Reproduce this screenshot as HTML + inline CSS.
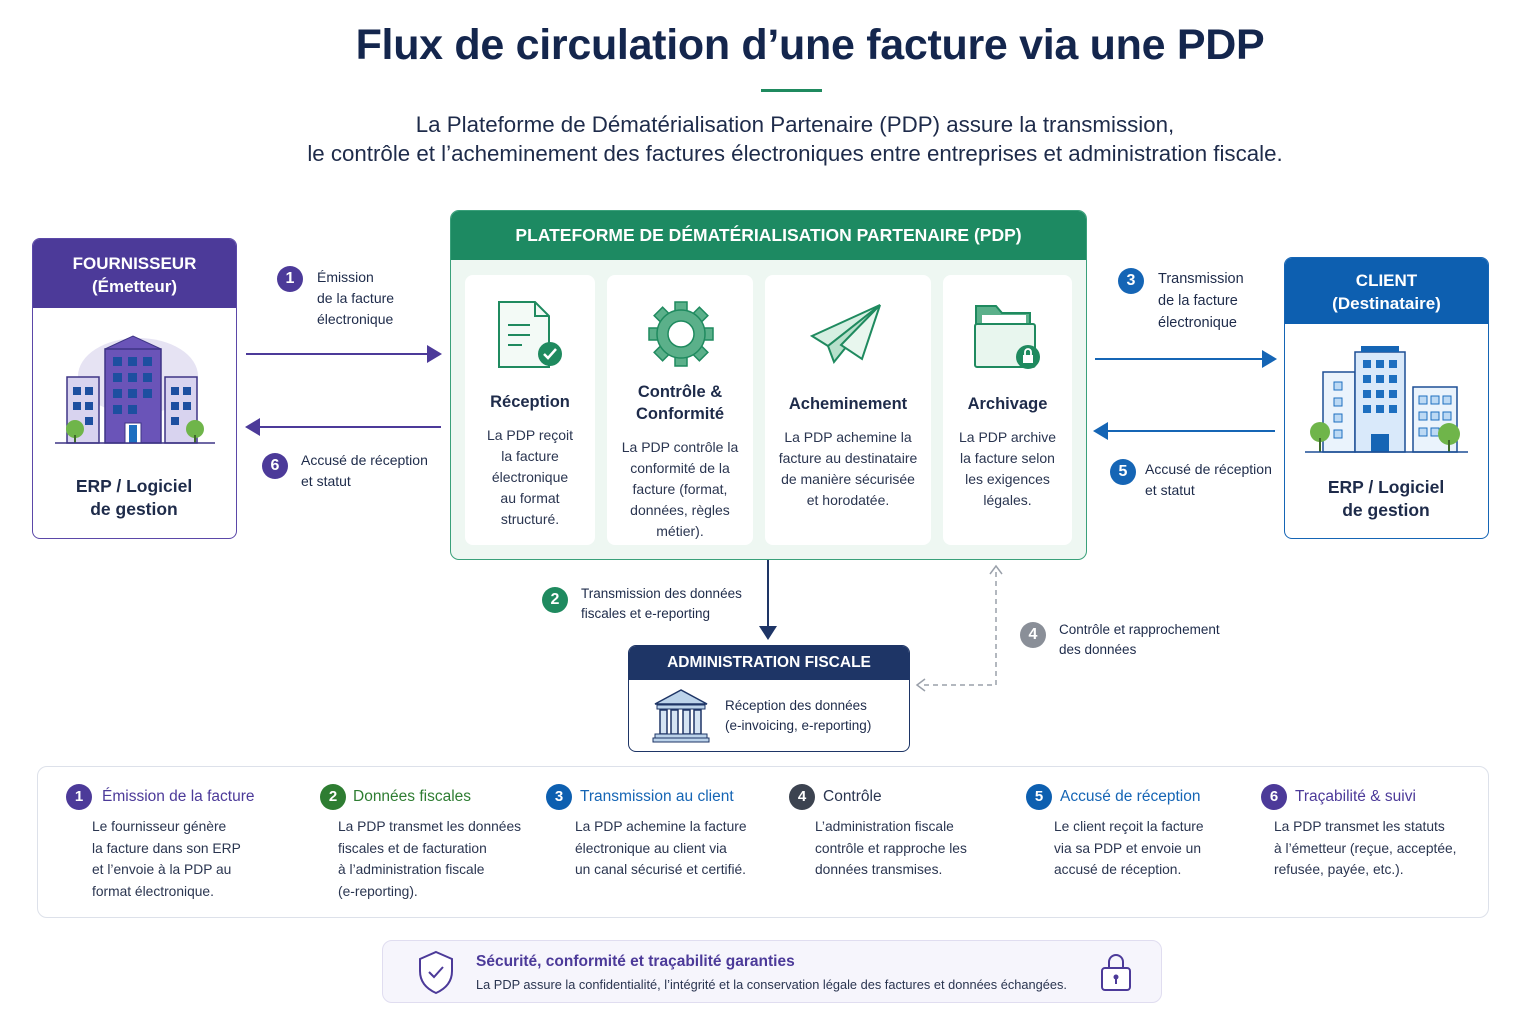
<!DOCTYPE html>
<html><head><meta charset="utf-8"><style>
*{margin:0;padding:0;box-sizing:border-box}
body{width:1536px;height:1024px;background:#fff;font-family:"Liberation Sans",sans-serif;position:relative;overflow:hidden;color:#1e2b4a}
.a{position:absolute}
.num{position:absolute;width:26px;height:26px;border-radius:50%;color:#fff;font-weight:bold;font-size:16px;text-align:center;line-height:26px}
.lbl{position:absolute;font-size:14px;line-height:21px;color:#1e2b4a}
.card{position:absolute;top:275px;height:270px;background:#fff;border-radius:8px;text-align:center}
.card h3{font-size:16.5px;color:#1e2b4a;line-height:22px;margin-bottom:12px}
.card p{font-size:14px;line-height:21px;color:#2a3550}
.bt{position:absolute;top:784px}
.bt .h{font-size:15.5px;height:26px;line-height:26px;position:relative;padding-left:36px}
.bt .h .num{left:0;top:0;font-size:15px}
.bt p{font-size:13.8px;line-height:21.5px;color:#2a3550;margin-top:6px;padding-left:26px}
</style></head><body>

<div class="a" style="left:0;width:1620px;top:21px;text-align:center;font-size:43px;font-weight:bold;color:#14264d;letter-spacing:-0.3px">Flux de circulation d’une facture via une PDP</div>
<div class="a" style="left:761px;top:89px;width:61px;height:3px;background:#1f8a5f"></div>
<div class="a" style="left:0;width:1590px;top:110px;text-align:center;font-size:22.3px;line-height:29px;color:#1e2b4a">La Plateforme de Dématérialisation Partenaire (PDP) assure la transmission,<br>le contrôle et l’acheminement des factures électroniques entre entreprises et administration fiscale.</div>

<!-- Fournisseur -->
<div class="a" style="left:32px;top:238px;width:205px;height:301px;border:1.5px solid #5b48a8;border-radius:8px;overflow:hidden;background:#fff">
 <div style="height:69px;background:#4c3a99;color:#fff;text-align:center;font-weight:bold;font-size:17px;line-height:23px;padding-top:13px">FOURNISSEUR<br>(Émetteur)</div>
 <svg class="a" style="left:20px;top:92px" width="165" height="120" viewBox="0 0 165 120">
  <ellipse cx="85" cy="45" rx="60" ry="38" fill="#e6e3f3"/>
  <rect x="14" y="46" width="32" height="66" fill="#d8d3ef" stroke="#3e3585" stroke-width="1.5"/>
  <rect x="112" y="46" width="32" height="66" fill="#d8d3ef" stroke="#3e3585" stroke-width="1.5"/>
  <polygon points="52,18 80,5 108,18" fill="#6a54b8" stroke="#3e3585"/>
  <rect x="52" y="18" width="56" height="94" fill="#6a54b8" stroke="#3e3585" stroke-width="1.5"/>
  <g fill="#1d4fa0">
   <rect x="60" y="26" width="9" height="9"/><rect x="75" y="26" width="9" height="9"/><rect x="90" y="26" width="9" height="9"/>
   <rect x="60" y="42" width="9" height="9"/><rect x="75" y="42" width="9" height="9"/><rect x="90" y="42" width="9" height="9"/>
   <rect x="60" y="58" width="9" height="9"/><rect x="75" y="58" width="9" height="9"/><rect x="90" y="58" width="9" height="9"/>
   <rect x="60" y="74" width="9" height="9"/><rect x="75" y="74" width="9" height="9"/>
   <rect x="20" y="56" width="8" height="8"/><rect x="32" y="56" width="8" height="8"/><rect x="20" y="71" width="8" height="8"/><rect x="32" y="71" width="8" height="8"/><rect x="32" y="86" width="8" height="8"/>
   <rect x="118" y="56" width="8" height="8"/><rect x="130" y="56" width="8" height="8"/><rect x="118" y="71" width="8" height="8"/><rect x="130" y="71" width="8" height="8"/><rect x="118" y="86" width="8" height="8"/>
  </g>
  <rect x="72" y="92" width="16" height="20" fill="#fff" stroke="#3e3585"/><rect x="76" y="94" width="8" height="18" fill="#1d6fc0"/>
  <circle cx="22" cy="98" r="9" fill="#6fb54a"/><rect x="21" y="104" width="2" height="8" fill="#3e6a2a"/>
  <circle cx="142" cy="98" r="9" fill="#6fb54a"/><rect x="141" y="104" width="2" height="8" fill="#3e6a2a"/>
  <line x1="2" y1="112" x2="162" y2="112" stroke="#3e3585" stroke-width="1.5"/>
 </svg>
 <div class="a" style="left:0;width:202px;top:236px;text-align:center;font-weight:bold;font-size:17.5px;line-height:23px;color:#1e2b4a">ERP / Logiciel<br>de gestion</div>
</div>

<svg class="a" style="left:0;top:0" width="1536" height="1024">
 <line x1="246" y1="354" x2="430" y2="354" stroke="#4c3a99" stroke-width="2"/>
 <polygon points="442,354 427,345 427,363" fill="#4c3a99"/>
 <line x1="258" y1="427" x2="441" y2="427" stroke="#4c3a99" stroke-width="2"/>
 <polygon points="245,427 260,418 260,436" fill="#4c3a99"/>
 <line x1="1095" y1="359" x2="1264" y2="359" stroke="#1565b5" stroke-width="2"/>
 <polygon points="1277,359 1262,350 1262,368" fill="#1565b5"/>
 <line x1="1106" y1="431" x2="1275" y2="431" stroke="#1565b5" stroke-width="2"/>
 <polygon points="1093,431 1108,422 1108,440" fill="#1565b5"/>
 <line x1="768" y1="560" x2="768" y2="628" stroke="#1e3566" stroke-width="2"/>
 <polygon points="768,640 759,626 777,626" fill="#1e3566"/>
 <polyline points="996,572 996,685 920,685" fill="none" stroke="#9aa0aa" stroke-width="1.5" stroke-dasharray="5,4"/>
 <polyline points="990,574 996,566 1002,574" fill="none" stroke="#9aa0aa" stroke-width="1.5"/>
 <polyline points="925,679 917,685 925,691" fill="none" stroke="#9aa0aa" stroke-width="1.5"/>
</svg>

<div class="num" style="left:277px;top:266px;background:#4c3a99">1</div>
<div class="lbl" style="left:317px;top:267px">Émission<br>de la facture<br>électronique</div>
<div class="num" style="left:262px;top:453px;background:#4c3a99">6</div>
<div class="lbl" style="left:301px;top:450px">Accusé de réception<br>et statut</div>
<div class="num" style="left:1118px;top:268px;background:#1565b5">3</div>
<div class="lbl" style="left:1158px;top:268px;font-size:14.5px;line-height:22px">Transmission<br>de la facture<br>électronique</div>
<div class="num" style="left:1110px;top:459px;background:#1565b5">5</div>
<div class="lbl" style="left:1145px;top:459px">Accusé de réception<br>et statut</div>
<div class="num" style="left:542px;top:587px;background:#1f8a5f">2</div>
<div class="lbl" style="left:581px;top:584px;font-size:13.5px;line-height:20px">Transmission des données<br>fiscales et e-reporting</div>
<div class="num" style="left:1020px;top:622px;background:#8a8f98">4</div>
<div class="lbl" style="left:1059px;top:620px;font-size:13.5px;line-height:20px">Contrôle et rapprochement<br>des données</div>

<!-- PDP -->
<div class="a" style="left:450px;top:210px;width:637px;height:350px;border:1.5px solid #3aa07a;border-radius:9px;overflow:hidden;background:#eef7f2">
 <div style="height:49px;background:#1d8a62;color:#fff;text-align:center;font-weight:bold;font-size:17.5px;line-height:49px">PLATEFORME DE DÉMATÉRIALISATION PARTENAIRE (PDP)</div>
</div>
<div class="card" style="left:465px;width:130px;padding-top:116px"><h3>Réception</h3><p>La PDP reçoit<br>la facture<br>électronique<br>au format<br>structuré.</p></div>
<div class="card" style="left:607px;width:146px;padding-top:106px"><h3>Contrôle &amp;<br>Conformité</h3><p>La PDP contrôle la<br>conformité de la<br>facture (format,<br>données, règles<br>métier).</p></div>
<div class="card" style="left:765px;width:166px;padding-top:118px"><h3>Acheminement</h3><p>La PDP achemine la<br>facture au destinataire<br>de manière sécurisée<br>et horodatée.</p></div>
<div class="card" style="left:943px;width:129px;padding-top:118px"><h3>Archivage</h3><p>La PDP archive<br>la facture selon<br>les exigences<br>légales.</p></div>

<svg class="a" style="left:0;top:0" width="1536" height="1024">
 <path d="M499,302 H535 L549,316 V367 H499 Z" fill="#f3faf6" stroke="#1f8a5f" stroke-width="2"/>
 <path d="M535,302 V316 H549" fill="none" stroke="#1f8a5f" stroke-width="2"/>
 <line x1="508" y1="325" x2="530" y2="325" stroke="#1f8a5f" stroke-width="2"/>
 <line x1="508" y1="335" x2="530" y2="335" stroke="#1f8a5f" stroke-width="2"/>
 <line x1="508" y1="345" x2="522" y2="345" stroke="#1f8a5f" stroke-width="2"/>
 <circle cx="550" cy="354" r="12" fill="#1f8a5f"/>
 <polyline points="544,354 548,358 556,349" fill="none" stroke="#fff" stroke-width="2.5"/>
 <g transform="translate(681,334)" fill="#5bb08a" stroke="#1f8a5f" stroke-width="1.5">
  <rect x="-6" y="-32" width="12" height="10"/>
  <rect x="-6" y="-32" width="12" height="10" transform="rotate(45)"/>
  <rect x="-6" y="-32" width="12" height="10" transform="rotate(90)"/>
  <rect x="-6" y="-32" width="12" height="10" transform="rotate(135)"/>
  <rect x="-6" y="-32" width="12" height="10" transform="rotate(180)"/>
  <rect x="-6" y="-32" width="12" height="10" transform="rotate(225)"/>
  <rect x="-6" y="-32" width="12" height="10" transform="rotate(270)"/>
  <rect x="-6" y="-32" width="12" height="10" transform="rotate(315)"/>
  <circle r="24"/>
  <circle r="13" fill="#fff"/>
 </g>
 <polygon points="880,305 812,336 828,346" fill="#d6efe2" stroke="#1f8a5f" stroke-width="2"/>
 <polygon points="880,305 828,346 834,362" fill="#b7e0cb" stroke="#1f8a5f" stroke-width="2"/>
 <polygon points="880,305 841,345 862,359" fill="#e8f6ee" stroke="#1f8a5f" stroke-width="2"/>
 <path d="M976,306 H996 L1002,313 H1030 V366 H976 Z" fill="#5bb08a" stroke="#1f8a5f" stroke-width="2"/>
 <rect x="982" y="315" width="44" height="8" fill="#fff"/>
 <rect x="975" y="324" width="60" height="43" rx="2" fill="#e8f6ee" stroke="#1f8a5f" stroke-width="2"/>
 <circle cx="1028" cy="357" r="12" fill="#1f8a5f"/>
 <rect x="1023" y="355" width="10" height="8" fill="#fff"/>
 <path d="M1025,355 v-3 a3,3 0 0 1 6,0 v3" fill="none" stroke="#fff" stroke-width="1.8"/>
</svg>

<!-- Client -->
<div class="a" style="left:1284px;top:257px;width:205px;height:282px;border:1.5px solid #1565b5;border-radius:8px;overflow:hidden;background:#fff">
 <div style="height:66px;background:#0d5fb0;color:#fff;text-align:center;font-weight:bold;font-size:17px;line-height:23px;padding-top:11px">CLIENT<br>(Destinataire)</div>
 <svg class="a" style="left:18px;top:84px" width="170" height="115" viewBox="0 0 170 115">
  <rect x="20" y="30" width="32" height="80" fill="#eaf3fc" stroke="#1d4f95" stroke-width="1.5"/>
  <rect x="110" y="45" width="44" height="65" fill="#eaf3fc" stroke="#1d4f95" stroke-width="1.5"/>
  <rect x="52" y="10" width="50" height="100" fill="#d9e9fa" stroke="#1d4f95" stroke-width="1.5"/>
  <rect x="58" y="4" width="38" height="6" fill="#1565b5"/>
  <g fill="#1d6fc0">
   <rect x="60" y="18" width="8" height="8"/><rect x="73" y="18" width="8" height="8"/><rect x="86" y="18" width="8" height="8"/>
   <rect x="60" y="33" width="8" height="8"/><rect x="73" y="33" width="8" height="8"/><rect x="86" y="33" width="8" height="8"/>
   <rect x="60" y="48" width="8" height="8"/><rect x="73" y="48" width="8" height="8"/><rect x="86" y="48" width="8" height="8"/>
   <rect x="60" y="63" width="8" height="8"/><rect x="73" y="63" width="8" height="8"/><rect x="86" y="63" width="8" height="8"/>
  </g>
  <g fill="#bcd9f4" stroke="#1d6fc0"><rect x="31" y="40" width="8" height="8"/><rect x="31" y="56" width="8" height="8"/><rect x="31" y="72" width="8" height="8"/><rect x="31" y="88" width="8" height="8"/>
  <rect x="116" y="54" width="8" height="8"/><rect x="128" y="54" width="8" height="8"/><rect x="140" y="54" width="8" height="8"/>
  <rect x="116" y="70" width="8" height="8"/><rect x="128" y="70" width="8" height="8"/><rect x="140" y="70" width="8" height="8"/>
  <rect x="116" y="86" width="8" height="8"/><rect x="128" y="86" width="8" height="8"/></g>
  <rect x="68" y="92" width="18" height="18" fill="#1565b5"/>
  <circle cx="17" cy="90" r="10" fill="#6fb54a"/><rect x="16" y="96" width="2" height="14" fill="#3e6a2a"/>
  <circle cx="146" cy="92" r="11" fill="#6fb54a"/><rect x="145" y="98" width="2" height="12" fill="#3e6a2a"/>
  <line x1="2" y1="110" x2="165" y2="110" stroke="#1d4f95" stroke-width="1.5"/>
 </svg>
 <div class="a" style="left:0;width:202px;top:218px;text-align:center;font-weight:bold;font-size:17.5px;line-height:23px;color:#1e2b4a">ERP / Logiciel<br>de gestion</div>
</div>

<!-- Admin -->
<div class="a" style="left:628px;top:645px;width:282px;height:107px;border:1.5px solid #1e3566;border-radius:8px;overflow:hidden;background:#fff">
 <div style="height:34px;background:#1e3566;color:#fff;text-align:center;font-weight:bold;font-size:15.5px;line-height:34px">ADMINISTRATION FISCALE</div>
 <svg class="a" style="left:22px;top:42px" width="60" height="56">
  <polygon points="30,2 4,16 56,16" fill="#bcd3ea" stroke="#1e3566" stroke-width="1.5"/>
  <rect x="6" y="17" width="48" height="4" fill="#bcd3ea" stroke="#1e3566"/>
  <g fill="#d5e4f3" stroke="#1e3566" stroke-width="1.5"><rect x="9" y="22" width="7" height="24"/><rect x="20" y="22" width="7" height="24"/><rect x="32" y="22" width="7" height="24"/><rect x="43" y="22" width="7" height="24"/></g>
  <rect x="4" y="46" width="52" height="4" fill="#bcd3ea" stroke="#1e3566"/>
  <rect x="2" y="50" width="56" height="4" fill="#bcd3ea" stroke="#1e3566"/>
 </svg>
 <div class="a" style="left:96px;top:50px;font-size:13.5px;line-height:20px;color:#1e2b4a">Réception des données<br>(e-invoicing, e-reporting)</div>
</div>

<!-- bottom panel -->
<div class="a" style="left:37px;top:766px;width:1452px;height:152px;border:1.5px solid #dde1ea;border-radius:10px;background:#fff"></div>
<div class="bt" style="left:66px"><div class="h" style="color:#4c3a99"><div class="num" style="background:#4c3a99">1</div>Émission de la facture</div><p>Le fournisseur génère<br>la facture dans son ERP<br>et l’envoie à la PDP au<br>format électronique.</p></div>
<div class="bt" style="left:320px"><div class="h" style="color:#2e7d32;padding-left:33px"><div class="num" style="background:#2e7d32">2</div>Données fiscales</div><p style="padding-left:18px">La PDP transmet les données<br>fiscales et de facturation<br>à l’administration fiscale<br>(e-reporting).</p></div>
<div class="bt" style="left:546px"><div class="h" style="color:#1565b5;padding-left:34px"><div class="num" style="background:#0d5fb0">3</div>Transmission au client</div><p style="padding-left:29px">La PDP achemine la facture<br>électronique au client via<br>un canal sécurisé et certifié.</p></div>
<div class="bt" style="left:789px"><div class="h" style="color:#2a3550;padding-left:34px"><div class="num" style="background:#3c4350">4</div>Contrôle</div><p style="padding-left:26px">L’administration fiscale<br>contrôle et rapproche les<br>données transmises.</p></div>
<div class="bt" style="left:1026px"><div class="h" style="color:#1565b5;padding-left:34px"><div class="num" style="background:#0d5fb0">5</div>Accusé de réception</div><p style="padding-left:28px">Le client reçoit la facture<br>via sa PDP et envoie un<br>accusé de réception.</p></div>
<div class="bt" style="left:1261px"><div class="h" style="color:#4c3a99;padding-left:34px"><div class="num" style="background:#4c3a99">6</div>Traçabilité &amp; suivi</div><p style="padding-left:13px">La PDP transmet les statuts<br>à l’émetteur (reçue, acceptée,<br>refusée, payée, etc.).</p></div>

<!-- security -->
<div class="a" style="left:382px;top:940px;width:780px;height:63px;border:1.5px solid #e0ddf0;border-radius:10px;background:#f6f5fc"></div>
<svg class="a" style="left:416px;top:949px" width="40" height="46">
 <path d="M20,3 L36,10 V22 C36,33 29,40 20,44 C11,40 4,33 4,22 V10 Z" fill="#fff" stroke="#4c3a99" stroke-width="2"/>
 <polyline points="13,23 18,28 27,18" fill="none" stroke="#4c3a99" stroke-width="2"/>
</svg>
<div class="a" style="left:476px;top:953px;font-size:15.5px;font-weight:bold;color:#4c3a99">Sécurité, conformité et traçabilité garanties</div>
<div class="a" style="left:476px;top:977px;font-size:12.8px;color:#2a3550">La PDP assure la confidentialité, l’intégrité et la conservation légale des factures et données échangées.</div>
<svg class="a" style="left:1099px;top:950px" width="34" height="42">
 <path d="M10,18 V12 a7,7 0 0 1 14,0 V18" fill="none" stroke="#4c3a99" stroke-width="2"/>
 <rect x="3" y="18" width="28" height="22" rx="3" fill="#fff" stroke="#4c3a99" stroke-width="2"/>
 <circle cx="17" cy="27" r="2.5" fill="#4c3a99"/><rect x="16" y="28" width="2" height="6" fill="#4c3a99"/>
</svg>
</body></html>
